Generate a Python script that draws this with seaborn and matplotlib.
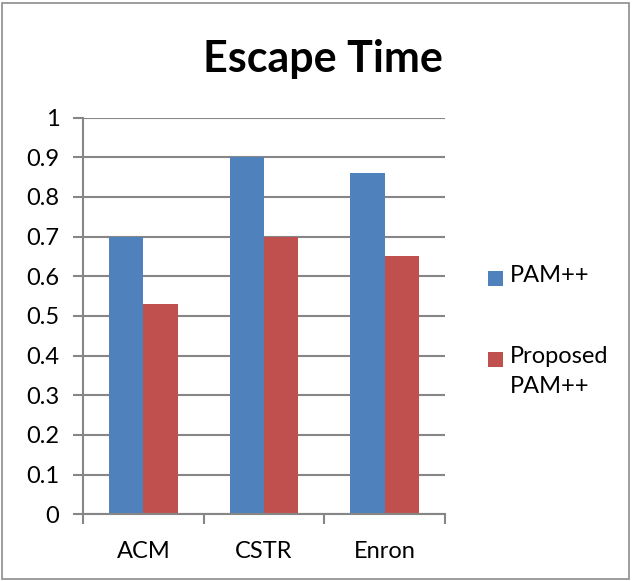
import matplotlib
matplotlib.use("Agg")
import matplotlib.pyplot as plt
from matplotlib.patches import Rectangle
import seaborn as sns
import pandas as pd

categories = ["ACM", "CSTR", "Enron"]
series_names = ["PAM++", "Proposed\nPAM++"]
pam = [0.70, 0.90, 0.86]
proposed = [0.53, 0.70, 0.65]
y_ticks = [0, 0.1, 0.2, 0.3, 0.4, 0.5, 0.6, 0.7, 0.8, 0.9, 1]
colors = ["#4F81BD", "#C0504D"]

df = pd.DataFrame({
    "cat": categories * 2,
    "val": pam + proposed,
    "series": [series_names[0]] * 3 + [series_names[1]] * 3,
})

sns.set_style("white")
plt.rcParams["font.family"] = ["Lato", "DejaVu Sans"]
grid_c = "#868686"
FS = 17

fig = plt.figure(figsize=(6.32, 5.81), dpi=100)
ax = fig.add_axes([83 / 632, 1 - 514.3 / 581, (445 - 83) / 632, (514.3 - 117.5) / 581])
sns.barplot(data=df, x="cat", y="val", hue="series", palette=colors,
            saturation=1, width=0.57, ax=ax, legend=False, errorbar=None,
            linewidth=0)

ax.set_xlim(-0.5, 2.5)
ax.set_ylim(0, 1)
ax.set_yticks(y_ticks)
ax.set_yticklabels(["0" if t == 0 else ("1" if t == 1 else f"{t:.1f}") for t in y_ticks])
ax.set_xlabel("")
ax.set_ylabel("")
ax.yaxis.grid(True, color=grid_c, linewidth=1.5)
ax.set_axisbelow(True)
for s in ["top", "right"]:
    ax.spines[s].set_visible(False)
for s in ["left", "bottom"]:
    ax.spines[s].set_color(grid_c)
    ax.spines[s].set_linewidth(1.5)
ax.tick_params(axis="y", length=7, width=1.5, color=grid_c, direction="out",
               labelsize=FS, pad=10, labelcolor="black", left=True)
ax.set_xticks([-0.5, 0.5, 1.5, 2.5], minor=True)
ax.tick_params(axis="x", which="minor", length=7, width=1.5, color=grid_c, direction="out", bottom=True)
ax.tick_params(axis="x", which="major", length=0, labelsize=FS, pad=19, labelcolor="black")

fig.text(323 / 632, 1 - 72 / 581, "Escape Time", ha="center", va="baseline",
         fontsize=31, fontweight="bold", color="black")

# legend drawn as squares + text, first line aligned with the square
legend_tops = [270, 351]
for name, col, top in zip(series_names, colors, legend_tops):
    fig.add_artist(Rectangle((488 / 632, 1 - (top + 16) / 581), 15 / 632, 15 / 581,
                             transform=fig.transFigure, facecolor=col, edgecolor="none"))
    fig.text(510 / 632, 1 - (top - 5) / 581, name, ha="left", va="top",
             fontsize=FS, linespacing=1.55, color="black")

fig.add_artist(Rectangle((2 / 632, 2 / 581), 627 / 632, 576 / 581, transform=fig.transFigure,
                         fill=False, edgecolor="#8C8C8C", linewidth=1.2))

fig.savefig("out.png", dpi=100)
